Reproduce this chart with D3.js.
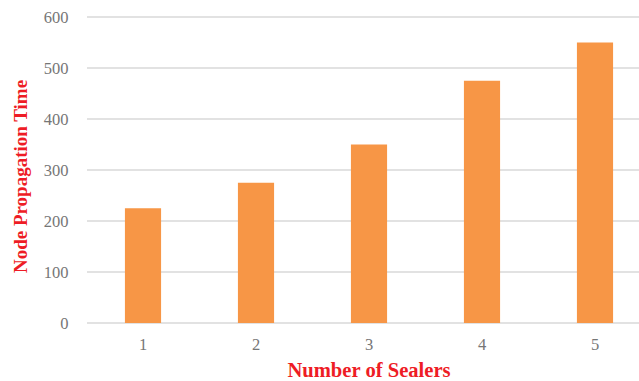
<!DOCTYPE html>
<html>
<head>
<meta charset="utf-8">
<script src="https://cdn.jsdelivr.net/npm/d3@7"></script>
<style>
    body { margin: 0; background: #fff; }
    svg { display: block; }
</style>
</head>
<body>
<svg id="chart" width="639" height="381"></svg>
<script>
// chart data
const sealers = ["1", "2", "3", "4", "5"];
const propagationTime = [225, 275, 350, 475, 550];
const yTicks = [0, 100, 200, 300, 400, 500, 600];

(function() {
    const svg = d3.select("#chart");
    const font = "'Liberation Serif', 'Times New Roman', serif";

    const x = d3.scaleBand()
        .domain(sealers)
        .range([86.5, 651.5])
        .paddingInner(0.68)
        .paddingOuter(0.34);

    const y = d3.scaleLinear()
        .domain([0, 600])
        .range([323, 17]);

    // gridlines
    svg.append("g")
        .selectAll("line")
        .data(yTicks)
        .enter()
        .append("line")
        .attr("x1", 87)
        .attr("x2", 639)
        .attr("y1", d => y(d))
        .attr("y2", d => y(d))
        .attr("stroke", "#d9d9d9")
        .attr("stroke-width", 1.5);

    // bars
    svg.append("g")
        .selectAll("rect")
        .data(propagationTime)
        .enter()
        .append("rect")
        .attr("x", (d, i) => x(sealers[i]))
        .attr("width", x.bandwidth())
        .attr("y", d => y(d))
        .attr("height", d => y(0) - y(d))
        .attr("fill", "#f79646");

    // y tick labels
    svg.append("g")
        .selectAll("text")
        .data(yTicks)
        .enter()
        .append("text")
        .attr("x", 68.5)
        .attr("y", d => y(d))
        .attr("dy", "0.35em")
        .attr("text-anchor", "end")
        .attr("font-family", font)
        .attr("font-size", 16.5)
        .attr("fill", "#767676")
        .text(d => d);

    // x tick labels
    svg.append("g")
        .selectAll("text")
        .data(sealers)
        .enter()
        .append("text")
        .attr("x", d => x(d) + x.bandwidth() / 2)
        .attr("y", 350)
        .attr("text-anchor", "middle")
        .attr("font-family", font)
        .attr("font-size", 16.5)
        .attr("fill", "#767676")
        .text(d => d);

    // axis titles
    svg.append("text")
        .attr("x", 369)
        .attr("y", 377)
        .attr("text-anchor", "middle")
        .attr("font-family", font)
        .attr("font-size", 20.6)
        .attr("font-weight", "bold")
        .attr("fill", "#ee1c25")
        .text("Number of Sealers");

    svg.append("text")
        .attr("transform", "translate(26.5,176.5) rotate(-90)")
        .attr("text-anchor", "middle")
        .attr("font-family", font)
        .attr("font-size", 19)
        .attr("font-weight", "bold")
        .attr("fill", "#ee1c25")
        .text("Node Propagation Time");
})();
</script>
</body>
</html>
